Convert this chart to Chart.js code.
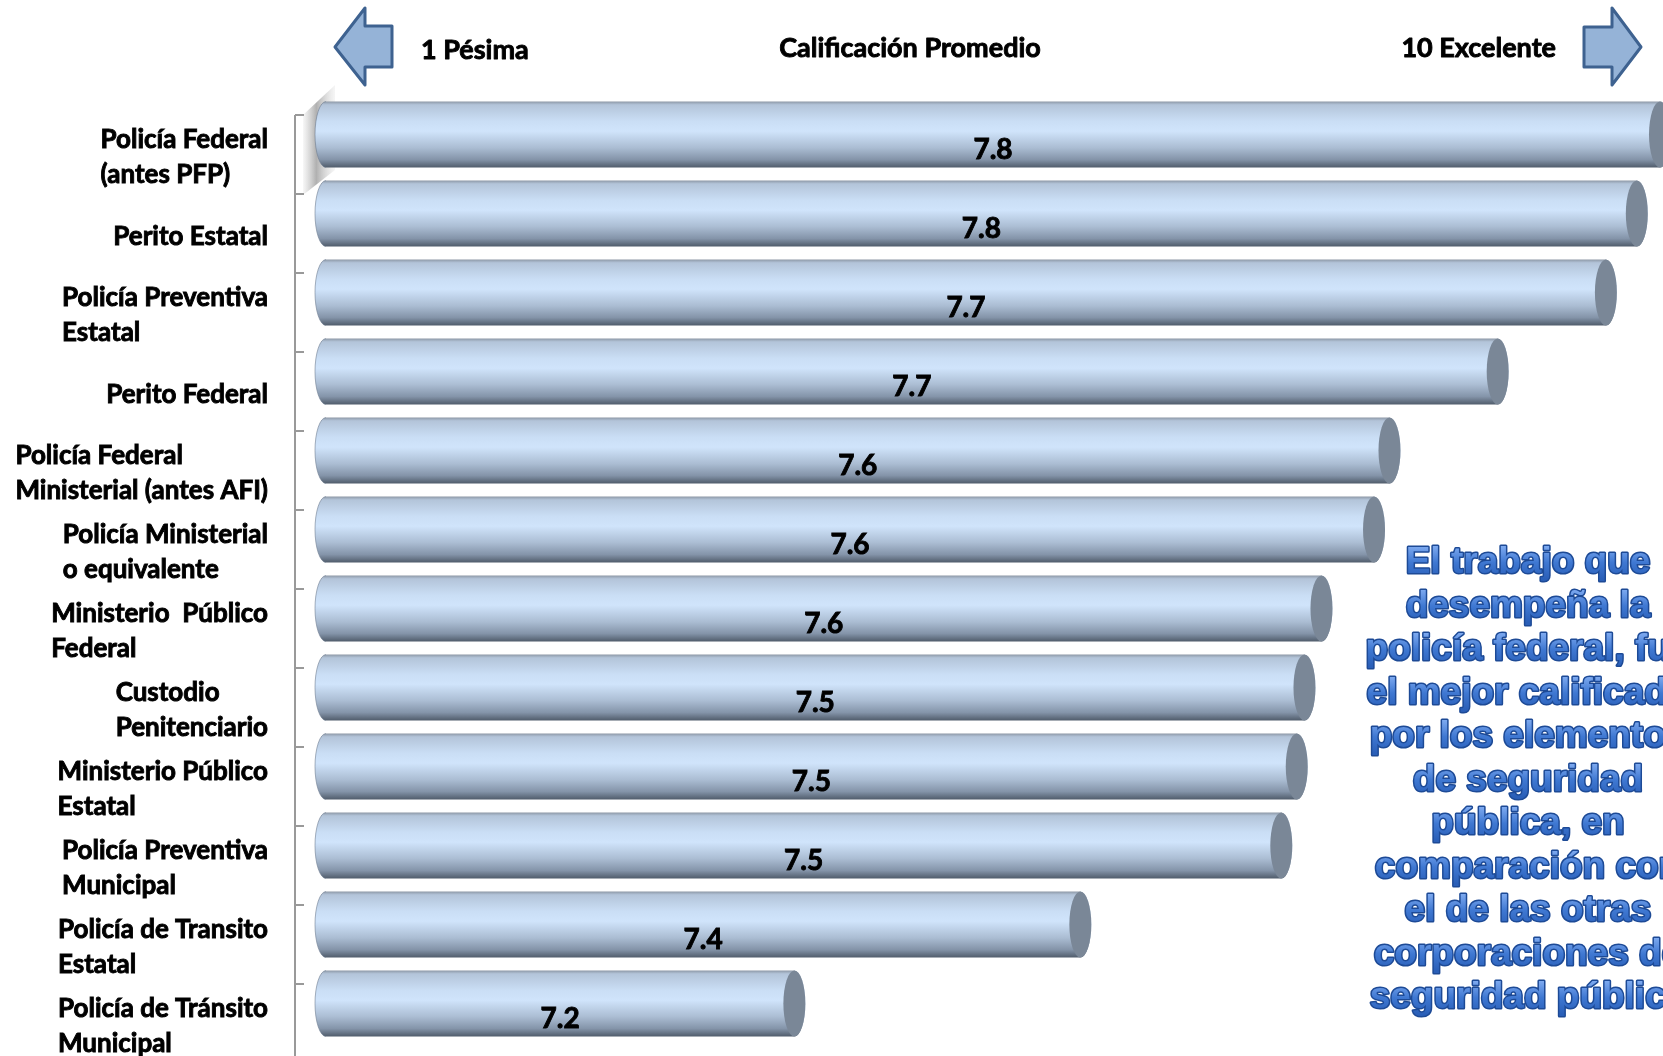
<!DOCTYPE html>
<html>
<head>
<meta charset="utf-8">
<script src="https://cdn.jsdelivr.net/npm/chart.js@4"></script>
<style>
  html, body { margin: 0; padding: 0; background: #fff; overflow: hidden; }
  canvas { display: block; }
</style>
</head>
<body>
<canvas id="ratingChart" width="1663" height="1075"></canvas>
<script>
// categories, top to bottom
const categories = [
    ['Policía Federal', '(antes PFP)'],
    ['Perito Estatal'],
    ['Policía Preventiva', 'Estatal'],
    ['Perito Federal'],
    ['Policía Federal', 'Ministerial (antes AFI)'],
    ['Policía Ministerial', 'o equivalente'],
    ['Ministerio  Público', 'Federal'],
    ['Custodio', 'Penitenciario'],
    ['Ministerio Público', 'Estatal'],
    ['Policía Preventiva', 'Municipal'],
    ['Policía de Transito', 'Estatal'],
    ['Policía de Tránsito', 'Municipal']
];
// average rating
const ratings = [7.775, 7.76, 7.74, 7.67, 7.60, 7.59, 7.556, 7.545, 7.54, 7.53, 7.40, 7.215];
const axisMin = 6.912;
const axisMax = 7.797;

const headerLeft = '1 Pésima';
const headerTitle = 'Calificación Promedio';
const headerRight = '10 Excelente';

const noteLines = [
    'El trabajo que',
    'desempeña la',
    'policía federal, fue',
    'el mejor calificado',
    'por los elementos',
    'de seguridad',
    'pública, en',
    'comparación con',
    'el de las otras',
    'corporaciones de',
    'seguridad pública'
];

const LABEL_FONT = 'bold 26px Lato';
const SHIFT_X = 31;   // fake 3d depth
const SHIFT_Y = -20;

// bold text with a thin stroke so it reads as heavy as the original
function heavyText(ctx, txt, x, y) {
    ctx.lineWidth = 0.9;
    ctx.strokeStyle = '#000';
    ctx.strokeText(txt, x, y);
    ctx.fillText(txt, x, y);
}

function drawArrow(ctx, pts) {
    ctx.beginPath();
    ctx.moveTo(pts[0][0], pts[0][1]);
    for (let i = 1; i < pts.length; i++) ctx.lineTo(pts[i][0], pts[i][1]);
    ctx.closePath();
    ctx.fillStyle = '#95b3d7';
    ctx.fill();
    ctx.lineWidth = 3;
    ctx.lineJoin = 'round';
    ctx.strokeStyle = '#3e6290';
    ctx.stroke();
}

const decorations = {
    id: 'decorations',
    beforeDatasetsDraw(chart) {
        const ctx = chart.ctx;
        const area = chart.chartArea;
        const yScale = chart.scales.y;
        const half = (area.bottom - area.top) / categories.length / 2;
        ctx.save();

        // wall shadow behind the first bar
        const sg = ctx.createLinearGradient(area.left + 6, 0, area.left + 40, 0);
        sg.addColorStop(0, 'rgba(180,180,180,0)');
        sg.addColorStop(0.45, 'rgba(150,150,150,0.75)');
        sg.addColorStop(1, 'rgba(210,210,210,0.2)');
        ctx.beginPath();
        ctx.moveTo(area.left + 8, area.top);
        ctx.lineTo(area.left + 40, area.top - 30);
        ctx.lineTo(area.left + 40, area.top + 55);
        ctx.lineTo(area.left + 8, area.top + 80);
        ctx.closePath();
        ctx.fillStyle = sg;
        ctx.fill();

        // category axis with inward ticks
        ctx.strokeStyle = '#999';
        ctx.lineWidth = 2;
        ctx.beginPath();
        ctx.moveTo(area.left, area.top);
        ctx.lineTo(area.left, area.bottom);
        for (let i = 0; i < categories.length; i++) {
            const t = yScale.getPixelForValue(i) - half;
            ctx.moveTo(area.left, t);
            ctx.lineTo(area.left + 9, t);
        }
        ctx.stroke();

        // category labels: block right aligned, lines left aligned
        ctx.font = LABEL_FONT;
        ctx.fillStyle = '#000';
        ctx.textBaseline = 'middle';
        ctx.textAlign = 'left';
        const right = area.left - 27;
        categories.forEach((lines, i) => {
            const w = Math.max(...lines.map(l => ctx.measureText(l).width));
            const cy = yScale.getPixelForValue(i) + 3;
            lines.forEach((l, j) => {
                const y = cy + (j - (lines.length - 1) / 2) * 35;
                heavyText(ctx, l, right - w, y);
            });
        });
        ctx.restore();
    },
    afterDatasetsDraw(chart) {
        const ctx = chart.ctx;
        const meta = chart.getDatasetMeta(0);
        const left = chart.chartArea.left;
        ctx.save();
        meta.data.forEach((bar, i) => {
            const x0 = Math.max(bar.base, left) + SHIFT_X;
            const x1 = bar.x + SHIFT_X;
            const top = bar.y - bar.height / 2 + SHIFT_Y;
            const bot = bar.y + bar.height / 2 + SHIFT_Y;
            const cy = (top + bot) / 2;
            const ry = (bot - top) / 2;
            const rx = 11;

            const g = ctx.createLinearGradient(0, top, 0, bot);
            g.addColorStop(0, '#8d98a6');
            g.addColorStop(0.05, '#b3c4d9');
            g.addColorStop(0.3, '#cadef5');
            g.addColorStop(0.45, '#d0e4fb');
            g.addColorStop(0.7, '#abbdd3');
            g.addColorStop(0.88, '#8494a9');
            g.addColorStop(1, '#505c6b');

            ctx.beginPath();
            ctx.moveTo(x0, top);
            ctx.lineTo(x1, top);
            ctx.ellipse(x1, cy, rx, ry, 0, -Math.PI / 2, Math.PI / 2);
            ctx.lineTo(x0, bot);
            ctx.ellipse(x0, cy, rx, ry, 0, Math.PI / 2, Math.PI * 1.5);
            ctx.closePath();
            ctx.fillStyle = g;
            ctx.fill();

            // back rim
            ctx.beginPath();
            ctx.ellipse(x0, cy, rx, ry, 0, Math.PI / 2, Math.PI * 1.5);
            ctx.strokeStyle = 'rgba(110,125,145,0.6)';
            ctx.lineWidth = 1;
            ctx.stroke();

            // end cap
            ctx.beginPath();
            ctx.ellipse(x1, cy, rx, ry, 0, 0, Math.PI * 2);
            ctx.fillStyle = '#7a8797';
            ctx.fill();

            ctx.font = 'bold 28px Lato';
            ctx.fillStyle = '#000';
            ctx.textAlign = 'center';
            ctx.textBaseline = 'middle';
            heavyText(ctx, ratings[i].toFixed(1), (x0 + x1) / 2, cy + 15);
        });
        ctx.restore();
    },
    afterDraw(chart) {
        const ctx = chart.ctx;
        ctx.save();

        drawArrow(ctx, [[335, 47], [365, 8], [365, 26], [392, 26], [392, 67], [365, 67], [365, 85]]);
        drawArrow(ctx, [[1641, 47], [1612, 8], [1612, 27], [1584, 27], [1584, 67], [1612, 67], [1612, 85]]);

        ctx.font = 'bold 27px Lato';
        ctx.fillStyle = '#000';
        ctx.textBaseline = 'middle';
        ctx.textAlign = 'left';
        heavyText(ctx, headerLeft, 421, 50);
        ctx.textAlign = 'center';
        heavyText(ctx, headerTitle, 910, 48);
        ctx.textAlign = 'right';
        heavyText(ctx, headerRight, 1556, 48);

        // side note
        ctx.font = 'bold 37px "Liberation Sans"';
        ctx.textAlign = 'center';
        ctx.textBaseline = 'alphabetic';
        ctx.lineJoin = 'round';
        noteLines.forEach((line, i) => {
            const y = 573 + i * 43.5;
            const ng = ctx.createLinearGradient(0, y - 27, 0, y + 6);
            ng.addColorStop(0, '#7eaaf0');
            ng.addColorStop(0.5, '#3f78d2');
            ng.addColorStop(1, '#2a5fb8');
            ctx.strokeStyle = '#1d4a96';
            ctx.lineWidth = 3;
            ctx.strokeText(line, 1528, y);
            ctx.fillStyle = ng;
            ctx.fillText(line, 1528, y);
        });
        ctx.restore();
    }
};

new Chart(document.getElementById('ratingChart'), {
    type: 'bar',
    data: {
        labels: categories,
        datasets: [{
            data: ratings,
            base: axisMin,
            backgroundColor: 'rgba(0,0,0,0)',
            borderWidth: 0,
            barPercentage: 0.835,
            categoryPercentage: 1
        }]
    },
    options: {
        indexAxis: 'y',
        responsive: false,
        animation: false,
        devicePixelRatio: 1,
        layout: { padding: { top: 115, bottom: 12, left: 295, right: 0 } },
        plugins: {
            legend: { display: false },
            tooltip: { enabled: false }
        },
        scales: {
            x: { display: false, min: axisMin, max: axisMax },
            y: { display: false }
        }
    },
    plugins: [decorations]
});
</script>
</body>
</html>
